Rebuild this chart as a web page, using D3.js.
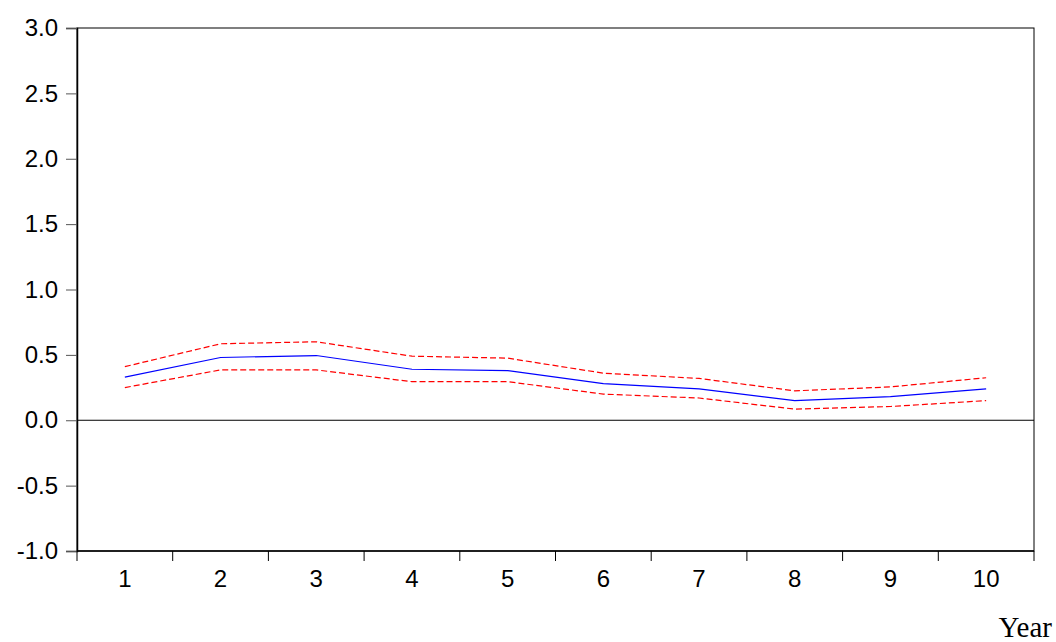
<!DOCTYPE html>
<html>
<head>
<meta charset="utf-8">
<script src="https://cdn.jsdelivr.net/npm/d3@7"></script>
<style>
  body { margin: 0; background: #fff; }
  svg { display: block; }
</style>
</head>
<body>
<div id="chart"></div>
<script>
// periods 1..10
const periods = [1, 2, 3, 4, 5, 6, 7, 8, 9, 10]
const response = [0.33, 0.48, 0.495, 0.39, 0.38, 0.28, 0.24, 0.15, 0.18, 0.24]
const upperBand = [0.41, 0.585, 0.60, 0.49, 0.475, 0.36, 0.32, 0.225, 0.255, 0.325]
const lowerBand = [0.25, 0.385, 0.385, 0.295, 0.295, 0.20, 0.17, 0.085, 0.105, 0.15]
const yTicks = [-1.0, -0.5, 0.0, 0.5, 1.0, 1.5, 2.0, 2.5, 3.0]
const xTitle = "Year"

const width = 1056
const height = 642
const margin = { top: 28, right: 22, bottom: 91, left: 77 }
const labelFont = "Liberation Sans, Arial, sans-serif"

const svg = d3.select("#chart")
  .append("svg")
  .attr("width", width)
  .attr("height", height)

const x = d3.scaleBand()
  .domain(periods)
  .range([margin.left, width - margin.right])

const y = d3.scaleLinear()
  .domain([-1, 3])
  .range([height - margin.bottom, margin.top])

const cx = d => x(d) + x.bandwidth() / 2

// frame
svg.append("rect")
  .attr("x", margin.left)
  .attr("y", margin.top)
  .attr("width", width - margin.right - margin.left)
  .attr("height", height - margin.bottom - margin.top)
  .attr("fill", "none")
  .attr("stroke", "#000")
  .attr("stroke-width", 1)

// zero line
svg.append("line")
  .attr("x1", margin.left)
  .attr("x2", width - margin.right)
  .attr("y1", y(0))
  .attr("y2", y(0))
  .attr("stroke", "#000")
  .attr("stroke-width", 1)

// y axis
const yAxis = svg.append("g")
  .attr("transform", `translate(${margin.left},0)`)
  .call(d3.axisLeft(y).tickValues(yTicks).tickFormat(d => d.toFixed(1)).tickSize(11).tickPadding(8))
yAxis.select(".domain").attr("stroke", "#000").attr("stroke-width", 1.5)
yAxis.selectAll(".tick line").attr("stroke", "#555")
yAxis.selectAll(".tick text")
  .attr("fill", "#000")
  .style("font-family", labelFont)
  .style("font-size", "24px")

// x axis: ticks on band boundaries, labels on band centres
const xAxis = svg.append("g")
  .attr("transform", `translate(0,${height - margin.bottom})`)
xAxis.append("line")
  .attr("x1", margin.left)
  .attr("x2", width - margin.right)
  .attr("stroke", "#000")
  .attr("stroke-width", 1.5)
xAxis.selectAll("line.tk")
  .data(periods.concat([null]))
  .enter()
  .append("line")
  .attr("class", "tk")
  .attr("x1", d => d === null ? width - margin.right : x(d))
  .attr("x2", d => d === null ? width - margin.right : x(d))
  .attr("y1", 0)
  .attr("y2", 10)
  .attr("stroke", "#000")
xAxis.selectAll("text")
  .data(periods)
  .enter()
  .append("text")
  .attr("x", d => cx(d))
  .attr("y", 35.5)
  .attr("text-anchor", "middle")
  .style("font-family", labelFont)
  .style("font-size", "24px")
  .text(d => d)

svg.append("text")
  .attr("x", 1052)
  .attr("y", 637)
  .attr("text-anchor", "end")
  .style("font-family", "Liberation Serif, Times New Roman, serif")
  .style("font-size", "29px")
  .text(xTitle)

const line = d3.line()
  .x((d, i) => cx(periods[i]))
  .y(d => y(d))

svg.append("path")
  .datum(upperBand)
  .attr("d", line)
  .attr("fill", "none")
  .attr("stroke", "#ff0000")
  .attr("stroke-width", 1.2)
  .attr("stroke-dasharray", "6,3")

svg.append("path")
  .datum(lowerBand)
  .attr("d", line)
  .attr("fill", "none")
  .attr("stroke", "#ff0000")
  .attr("stroke-width", 1.2)
  .attr("stroke-dasharray", "6,3")

svg.append("path")
  .datum(response)
  .attr("d", line)
  .attr("fill", "none")
  .attr("stroke", "#0000ff")
  .attr("stroke-width", 1.2)
</script>
</body>
</html>
